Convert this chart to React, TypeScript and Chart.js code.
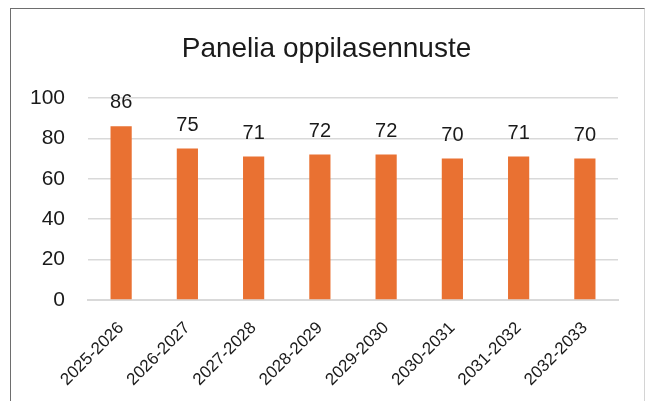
import React, { useEffect, useRef } from "react";
import { Chart, registerables } from "chart.js";

Chart.register(...registerables);

const title = "Panelia oppilasennuste";
const categories = [
  "2025-2026",
  "2026-2027",
  "2027-2028",
  "2028-2029",
  "2029-2030",
  "2030-2031",
  "2031-2032",
  "2032-2033",
];
const values = [86, 75, 71, 72, 72, 70, 71, 70];
const yMin = 0;
const yMax = 100;
const yStep = 20;

const FONT = "'Liberation Sans', Arial, sans-serif";

const dataLabels = {
  id: "dataLabels",
  afterDatasetsDraw(chart: any) {
    const ctx = chart.ctx;
    const meta = chart.getDatasetMeta(0);
    ctx.save();
    ctx.font = `20px ${FONT}`;
    ctx.fillStyle = "#1a1a1a";
    ctx.textAlign = "center";
    ctx.textBaseline = "alphabetic";
    meta.data.forEach((bar: any, i: number) => {
      ctx.fillText(String(chart.data.datasets[0].data[i]), bar.x, bar.y - 18);
    });
    ctx.restore();
  },
};

const chartTitle = {
  id: "chartTitle",
  afterDraw(chart: any) {
    const ctx = chart.ctx;
    ctx.save();
    ctx.font = `28px ${FONT}`;
    ctx.fillStyle = "#1a1a1a";
    ctx.textAlign = "center";
    ctx.textBaseline = "alphabetic";
    ctx.fillText(title, chart.width / 2 + 3, 57);
    ctx.restore();
  },
};

export default function App() {
  const ref = useRef<HTMLCanvasElement>(null);
  useEffect(() => {
    if (!ref.current) return;
    const chart = new Chart(ref.current, {
      type: "bar",
      data: {
        labels: categories,
        datasets: [
          {
            data: values,
            backgroundColor: "#E97132",
            borderWidth: 0,
            categoryPercentage: 1,
            barPercentage: 0.32,
          },
        ],
      },
      options: {
        animation: false,
        responsive: false,
        maintainAspectRatio: false,
        layout: { padding: { top: 98, right: 29, bottom: 0, left: 0 } },
        plugins: {
          legend: { display: false },
          tooltip: { enabled: false },
          title: { display: false },
        },
        scales: {
          x: {
            afterFit: (scale: any) => {
              scale.height = 101;
            },
            grid: { display: false, drawTicks: false },
            border: { display: true, color: "#d9d9d9", width: 2 },
            ticks: {
              color: "#1a1a1a",
              font: { family: FONT, size: 17 },
              maxRotation: 45,
              minRotation: 45,
              autoSkip: false,
              padding: 18,
            },
          },
          y: {
            afterFit: (scale: any) => {
              scale.width = 88;
            },
            min: yMin,
            max: yMax,
            grid: { color: "#d9d9d9", lineWidth: 1.5, drawTicks: false },
            border: { display: false },
            ticks: {
              stepSize: yStep,
              color: "#1a1a1a",
              font: { family: FONT, size: 21 },
              padding: 23,
            },
          },
        },
      },
      plugins: [dataLabels, chartTitle],
    });
    return () => chart.destroy();
  }, []);
  return (
    <div style={{ position: "fixed", left: 0, top: 0, width: 647, height: 401, background: "#fff" }}>
      <div
        style={{
          position: "absolute",
          left: 10,
          top: 8,
          width: 635,
          height: 400,
          borderTop: "1.5px solid #6e6e6e",
          borderLeft: "1.5px solid #6e6e6e",
          borderRight: "1.5px solid #d4d4d4",
          boxSizing: "border-box",
        }}
      />
      <canvas ref={ref} width={647} height={401} style={{ position: "absolute", left: 0, top: 0 }} />
    </div>
  );
}
